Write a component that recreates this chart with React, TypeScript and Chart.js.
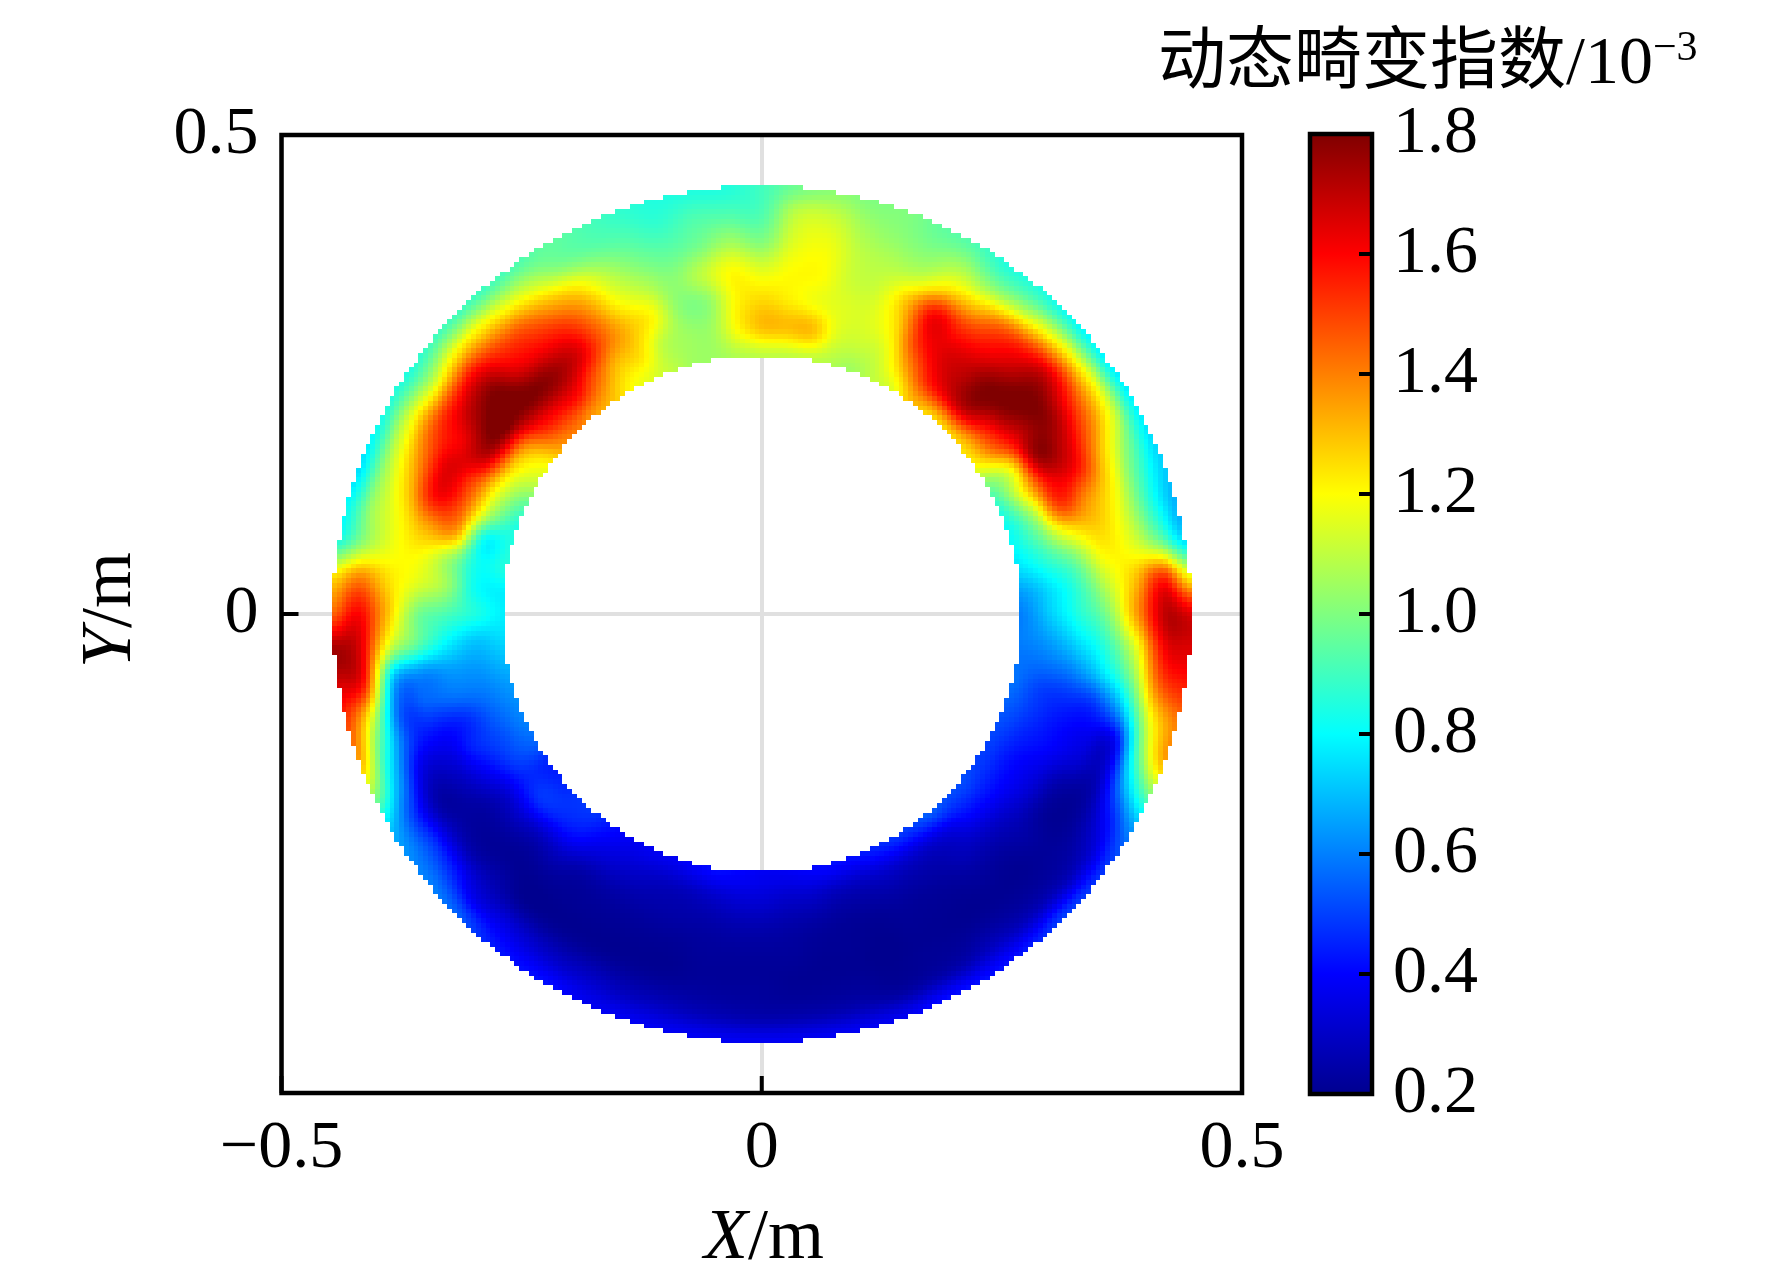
import React, { useEffect, useRef } from "react";
import { Chart, registerables } from "chart.js";

Chart.register(...registerables);

const SERIF = '"Liberation Serif", "Noto Sans CJK SC"';
const FONT_SIZE = 68;
const AXIS_TITLE_SIZE = 72;

// field value at each radius (m), one row per angle (0, 5, ... 355 deg, ccw from +x)
const angleStep = 5;
const radii = [0.27, 0.3, 0.33, 0.36, 0.39, 0.42, 0.447];
const fieldRows = [
  [0.60, 0.72, 0.85, 1.00, 1.35, 1.70, 1.65],
  [0.65, 0.75, 0.88, 1.10, 1.30, 1.55, 1.20],
  [0.75, 0.85, 0.98, 1.20, 1.18, 1.02, 0.75],
  [0.80, 0.95, 1.20, 1.28, 1.15, 0.88, 0.68],
  [0.82, 1.05, 1.50, 1.38, 1.20, 0.90, 0.72],
  [0.88, 1.20, 1.60, 1.60, 1.30, 1.00, 0.75],
  [1.00, 1.20, 1.75, 1.70, 1.45, 1.15, 0.78],
  [1.20, 1.45, 1.70, 1.78, 1.55, 1.20, 0.78],
  [1.25, 1.55, 1.78, 1.80, 1.65, 1.20, 0.80],
  [1.25, 1.70, 1.80, 1.70, 1.55, 1.15, 0.82],
  [1.25, 1.65, 1.70, 1.60, 1.45, 1.05, 0.85],
  [1.30, 1.55, 1.65, 1.55, 1.30, 1.00, 0.85],
  [1.15, 1.35, 1.55, 1.60, 1.25, 1.05, 0.92],
  [1.10, 1.15, 1.25, 1.30, 1.10, 1.00, 0.95],
  [1.05, 1.12, 1.15, 1.13, 1.08, 1.02, 1.00],
  [1.08, 1.15, 1.15, 1.12, 1.10, 1.05, 1.00],
  [1.10, 1.30, 1.18, 1.20, 1.18, 1.12, 1.02],
  [1.10, 1.30, 1.22, 1.20, 1.15, 1.10, 0.98],
  [1.10, 1.30, 1.25, 1.15, 1.00, 0.92, 0.90],
  [1.08, 1.20, 1.20, 1.20, 1.05, 0.92, 0.85],
  [1.05, 1.05, 1.02, 1.10, 0.98, 0.92, 0.85],
  [1.05, 1.05, 1.02, 1.02, 0.95, 0.88, 0.85],
  [1.10, 1.10, 1.20, 1.10, 1.00, 0.92, 0.88],
  [1.15, 1.25, 1.30, 1.20, 1.10, 0.95, 0.92],
  [1.20, 1.30, 1.45, 1.40, 1.25, 1.00, 0.95],
  [1.30, 1.45, 1.65, 1.55, 1.35, 1.10, 0.92],
  [1.35, 1.60, 1.75, 1.60, 1.45, 1.15, 0.90],
  [1.40, 1.60, 1.80, 1.65, 1.50, 1.20, 0.90],
  [1.35, 1.55, 1.80, 1.80, 1.60, 1.20, 0.90],
  [1.20, 1.35, 1.80, 1.75, 1.55, 1.10, 0.85],
  [1.10, 1.25, 1.70, 1.62, 1.50, 1.15, 0.85],
  [0.95, 1.15, 1.50, 1.65, 1.40, 1.10, 0.80],
  [0.85, 1.05, 1.45, 1.60, 1.30, 1.05, 0.75],
  [0.85, 0.82, 1.35, 1.35, 1.20, 1.05, 0.80],
  [0.85, 0.82, 1.05, 1.20, 1.18, 1.05, 0.85],
  [0.78, 0.82, 1.05, 1.15, 1.25, 1.40, 1.25],
  [0.78, 0.85, 0.92, 1.00, 1.30, 1.60, 1.45],
  [0.75, 0.72, 0.80, 0.95, 1.15, 1.65, 1.75],
  [0.70, 0.65, 0.65, 0.62, 0.72, 1.55, 1.65],
  [0.65, 0.60, 0.58, 0.55, 0.55, 1.15, 1.50],
  [0.62, 0.55, 0.45, 0.42, 0.50, 0.90, 1.35],
  [0.60, 0.52, 0.45, 0.33, 0.35, 0.70, 1.05],
  [0.55, 0.50, 0.38, 0.27, 0.25, 0.50, 0.72],
  [0.45, 0.45, 0.30, 0.23, 0.27, 0.50, 0.62],
  [0.45, 0.48, 0.30, 0.22, 0.25, 0.45, 0.60],
  [0.48, 0.45, 0.27, 0.21, 0.25, 0.35, 0.55],
  [0.48, 0.42, 0.28, 0.21, 0.21, 0.35, 0.45],
  [0.42, 0.35, 0.24, 0.21, 0.21, 0.32, 0.42],
  [0.38, 0.32, 0.24, 0.21, 0.21, 0.30, 0.42],
  [0.38, 0.30, 0.24, 0.21, 0.21, 0.30, 0.38],
  [0.38, 0.28, 0.24, 0.21, 0.21, 0.28, 0.38],
  [0.40, 0.28, 0.24, 0.21, 0.21, 0.28, 0.38],
  [0.42, 0.30, 0.24, 0.22, 0.22, 0.27, 0.38],
  [0.40, 0.32, 0.25, 0.22, 0.22, 0.26, 0.38],
  [0.38, 0.32, 0.25, 0.22, 0.22, 0.25, 0.38],
  [0.38, 0.30, 0.24, 0.22, 0.21, 0.25, 0.38],
  [0.40, 0.30, 0.23, 0.21, 0.21, 0.25, 0.38],
  [0.42, 0.28, 0.22, 0.21, 0.21, 0.25, 0.38],
  [0.42, 0.28, 0.22, 0.20, 0.20, 0.23, 0.38],
  [0.45, 0.30, 0.23, 0.21, 0.21, 0.24, 0.42],
  [0.48, 0.30, 0.23, 0.21, 0.21, 0.25, 0.42],
  [0.50, 0.30, 0.24, 0.21, 0.21, 0.28, 0.42],
  [0.55, 0.33, 0.27, 0.22, 0.21, 0.27, 0.45],
  [0.52, 0.40, 0.28, 0.22, 0.21, 0.27, 0.50],
  [0.52, 0.42, 0.30, 0.24, 0.22, 0.27, 0.48],
  [0.50, 0.42, 0.33, 0.22, 0.22, 0.32, 0.50],
  [0.50, 0.42, 0.35, 0.24, 0.24, 0.45, 0.65],
  [0.52, 0.45, 0.40, 0.33, 0.30, 0.72, 1.00],
  [0.55, 0.48, 0.42, 0.38, 0.38, 1.00, 1.35],
  [0.58, 0.50, 0.48, 0.50, 0.72, 1.20, 1.40],
  [0.58, 0.58, 0.62, 0.75, 0.98, 1.45, 1.55],
  [0.60, 0.65, 0.75, 0.88, 1.15, 1.60, 1.65],
];

const axisTicks = [-0.5, 0, 0.5];
const barTicks = [0.2, 0.4, 0.6, 0.8, 1.0, 1.2, 1.4, 1.6, 1.8];

// jet colour map anchors
const jetValues = [0.2, 0.4, 0.8, 1.2, 1.6, 1.8];
const jetColors = [
  [0, 0, 143],
  [0, 0, 255],
  [0, 255, 255],
  [255, 255, 0],
  [255, 0, 0],
  [128, 0, 0],
];

function jet(v: number) {
  const val = Math.min(1.8, Math.max(0.2, v));
  let i = 0;
  while (i < jetValues.length - 2 && val > jetValues[i + 1]) i++;
  const t = (val - jetValues[i]) / (jetValues[i + 1] - jetValues[i]);
  const c = jetColors[i].map((a, k) => Math.round(a + (jetColors[i + 1][k] - a) * t));
  return `rgb(${c[0]},${c[1]},${c[2]})`;
}

function spline(p0: number, p1: number, p2: number, p3: number, t: number) {
  return 0.5 * (2 * p1 + (p2 - p0) * t + (2 * p0 - 5 * p1 + 4 * p2 - p3) * t * t + (3 * p1 - p0 - 3 * p2 + p3) * t * t * t);
}

// shading between the table nodes, like shading interp in the original plot
function fieldAt(r: number, deg: number) {
  const n = fieldRows.length;
  const u = deg / angleStep;
  const a = Math.floor(u) % n;
  const ta = u - Math.floor(u);
  let b = 0;
  while (b < radii.length - 2 && r > radii[b + 1]) b++;
  const tb = (r - radii[b]) / (radii[b + 1] - radii[b]);
  const col = (row: number[]) => {
    const g = (k: number) => row[Math.min(radii.length - 1, Math.max(0, k))];
    return spline(g(b - 1), g(b), g(b + 1), g(b + 2), tb);
  };
  return spline(
    col(fieldRows[(a - 1 + n) % n]),
    col(fieldRows[a]),
    col(fieldRows[(a + 1) % n]),
    col(fieldRows[(a + 2) % n]),
    ta
  );
}

const CELL = 0.005;

const fieldPlugin = {
  id: "ringField",
  beforeDatasetsDraw(chart: any) {
    const { ctx, scales } = chart;
    const rIn = radii[0];
    const rOut = radii[radii.length - 1];
    const steps = Math.ceil(rOut / CELL);
    for (let i = -steps; i <= steps; i++) {
      for (let j = -steps; j <= steps; j++) {
        const x = i * CELL;
        const y = j * CELL;
        const r = Math.hypot(x, y);
        if (r < rIn || r > rOut) continue;
        let deg = (Math.atan2(y, x) * 180) / Math.PI;
        if (deg < 0) deg += 360;
        const x0 = Math.round(scales.x.getPixelForValue(x - CELL / 2));
        const x1 = Math.round(scales.x.getPixelForValue(x + CELL / 2));
        const y0 = Math.round(scales.y.getPixelForValue(y + CELL / 2));
        const y1 = Math.round(scales.y.getPixelForValue(y - CELL / 2));
        ctx.fillStyle = jet(fieldAt(r, deg));
        ctx.fillRect(x0, y0, x1 - x0, y1 - y0);
      }
    }
  },
};

function drawFrame(chart: any) {
  const { ctx, chartArea: a } = chart;
  ctx.save();
  ctx.strokeStyle = "#000";
  ctx.lineWidth = 4.5;
  ctx.strokeRect(a.left, a.top, a.right - a.left, a.bottom - a.top);
  ctx.restore();
}

function inwardTick(ctx: any, x0: number, y0: number, x1: number, y1: number) {
  ctx.beginPath();
  ctx.moveTo(x0, y0);
  ctx.lineTo(x1, y1);
  ctx.stroke();
}

const mainFramePlugin = {
  id: "mainFrame",
  afterDatasetsDraw(chart: any) {
    const { ctx, chartArea: a, scales } = chart;
    drawFrame(chart);
    ctx.save();
    ctx.strokeStyle = "#000";
    ctx.lineWidth = 4;
    axisTicks.forEach((v) => {
      const px = scales.x.getPixelForValue(v);
      inwardTick(ctx, px, a.bottom, px, a.bottom - 17);
      const py = scales.y.getPixelForValue(v);
      inwardTick(ctx, a.left, py, a.left + 17, py);
    });
    ctx.restore();
  },
  afterDraw(chart: any) {
    const { ctx } = chart;
    ctx.save();
    ctx.fillStyle = "#000";
    ctx.textBaseline = "alphabetic";
    ctx.textAlign = "left";

    // x title, X in italics
    ctx.font = `italic ${AXIS_TITLE_SIZE}px ${SERIF}`;
    ctx.fillText("X", 704, 1258);
    let w = ctx.measureText("X").width;
    ctx.font = `${AXIS_TITLE_SIZE}px ${SERIF}`;
    ctx.fillText("/m", 704 + w, 1258);

    // y title
    ctx.translate(130, 668);
    ctx.rotate(-Math.PI / 2);
    ctx.font = `italic ${AXIS_TITLE_SIZE}px ${SERIF}`;
    ctx.fillText("Y", 0, 0);
    w = ctx.measureText("Y").width;
    ctx.font = `${AXIS_TITLE_SIZE}px ${SERIF}`;
    ctx.fillText("/m", w, 0);
    ctx.restore();
  },
};

const barPlugin = {
  id: "barFrame",
  afterDatasetsDraw(chart: any) {
    const { ctx, chartArea: a, scales } = chart;
    drawFrame(chart);
    ctx.save();
    ctx.strokeStyle = "#000";
    ctx.lineWidth = 4;
    barTicks.forEach((v) => {
      const py = scales.y.getPixelForValue(v);
      inwardTick(ctx, a.right, py, a.right - 13, py);
    });
    ctx.restore();
  },
  afterDraw(chart: any) {
    const { ctx } = chart;
    ctx.save();
    ctx.fillStyle = "#000";
    ctx.textBaseline = "alphabetic";
    ctx.textAlign = "left";
    ctx.font = `${FONT_SIZE}px ${SERIF}`;
    ctx.fillText("动态畸变指数/10", 1158, 83);
    const w = ctx.measureText("动态畸变指数/10").width;
    ctx.font = `42px ${SERIF}`;
    ctx.fillText("−3", 1158 + w, 60);
    ctx.restore();
  },
};

const tickFont = { family: SERIF, size: FONT_SIZE };

export default function App() {
  const mainRef = useRef<HTMLCanvasElement | null>(null);
  const barRef = useRef<HTMLCanvasElement | null>(null);

  useEffect(() => {
    if (!mainRef.current || !barRef.current) return;

    const main = new Chart(mainRef.current, {
      type: "scatter",
      data: {
        datasets: [
          {
            label: "动态畸变指数",
            data: fieldRows.flatMap((row, a) =>
              row.map((v, k) => ({
                x: radii[k] * Math.cos((a * angleStep * Math.PI) / 180),
                y: radii[k] * Math.sin((a * angleStep * Math.PI) / 180),
                v,
              }))
            ),
            pointRadius: 0,
          },
        ],
      },
      options: {
        responsive: false,
        animation: false,
        devicePixelRatio: 1,
        layout: { autoPadding: false, padding: { left: 0, right: 530, top: 135, bottom: 0 } },
        plugins: { legend: { display: false }, tooltip: { enabled: false } },
        scales: {
          x: {
            type: "linear",
            min: -0.5,
            max: 0.5,
            afterBuildTicks: (s: any) => {
              s.ticks = axisTicks.map((value) => ({ value }));
            },
            afterFit: (s: any) => {
              s.height = 186;
            },
            grid: { color: "#e0e0e0", lineWidth: 4, drawTicks: false },
            border: { display: false },
            ticks: {
              font: tickFont,
              color: "#000",
              padding: 15,
              maxRotation: 0,
              callback: (v: any) => (v === 0 ? "0" : v < 0 ? "−0.5" : "0.5"),
            },
          },
          y: {
            type: "linear",
            min: -0.5,
            max: 0.5,
            afterBuildTicks: (s: any) => {
              s.ticks = axisTicks.map((value) => ({ value }));
            },
            afterFit: (s: any) => {
              s.width = 281.5;
            },
            grid: { color: "#e0e0e0", lineWidth: 4, drawTicks: false },
            border: { display: false },
            ticks: {
              font: tickFont,
              color: "#000",
              padding: 23,
              callback: (v: any) => (v === 0 ? "0" : v < 0 ? "" : "0.5"),
            },
          },
        },
      },
      plugins: [fieldPlugin, mainFramePlugin],
    } as any);

    const bar = new Chart(barRef.current, {
      type: "bar",
      data: {
        labels: [""],
        datasets: [
          {
            data: [[jetValues[0], jetValues[jetValues.length - 1]]],
            barPercentage: 1,
            categoryPercentage: 1,
            backgroundColor: (c: any) => {
              const { ctx, scales } = c.chart;
              const y0 = scales.y ? scales.y.getPixelForValue(0.2) : NaN;
              const y1 = scales.y ? scales.y.getPixelForValue(1.8) : NaN;
              if (!Number.isFinite(y0) || !Number.isFinite(y1)) return "#000";
              const g = ctx.createLinearGradient(0, y0, 0, y1);
              jetValues.forEach((v) => g.addColorStop((v - 0.2) / 1.6, jet(v)));
              return g;
            },
          },
        ],
      },
      options: {
        responsive: false,
        animation: false,
        devicePixelRatio: 1,
        layout: { autoPadding: false, padding: { left: 1310, right: 0, top: 134, bottom: 185 } },
        plugins: { legend: { display: false }, tooltip: { enabled: false } },
        scales: {
          x: { display: false },
          y: {
            type: "linear",
            position: "right",
            min: 0.2,
            max: 1.8,
            afterBuildTicks: (s: any) => {
              s.ticks = barTicks.map((value) => ({ value }));
            },
            afterFit: (s: any) => {
              s.width = 400;
            },
            grid: { display: false, drawTicks: false },
            border: { display: false },
            ticks: {
              font: tickFont,
              color: "#000",
              padding: 21,
              callback: (v: any) => Number(v).toFixed(1),
            },
          },
        },
      },
      plugins: [barPlugin],
    } as any);

    return () => {
      main.destroy();
      bar.destroy();
    };
  }, []);

  const canvasStyle: React.CSSProperties = { position: "absolute", left: 0, top: 0 };

  return (
    <div style={{ position: "absolute", left: 0, top: 0, width: 1772, height: 1279, background: "#fff", overflow: "hidden" }}>
      <canvas ref={mainRef} width={1772} height={1279} style={canvasStyle} />
      <canvas ref={barRef} width={1772} height={1279} style={canvasStyle} />
    </div>
  );
}
